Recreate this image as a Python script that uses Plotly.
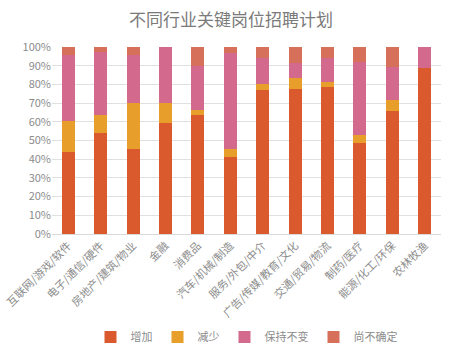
import plotly.graph_objects as go

categories = ["互联网/游戏/软件", "电子/通信/硬件", "房地产/建筑/物业", "金融", "消费品",
              "汽车/机械/制造", "服务/外包/中介", "广告/传媒/教育/文化", "交通/贸易/物流",
              "制药/医疗", "能源/化工/环保", "农林牧渔"]
increase = [43.6, 53.8, 45.7, 59.5, 63.8, 41.4, 77.0, 77.5, 78.6, 48.4, 65.6, 88.7]
decrease = [16.7, 9.7, 24.3, 10.5, 2.7, 4.3, 3.0, 5.8, 2.5, 4.7, 6.3, 0.0]
unchanged = [35.6, 33.8, 25.9, 30.0, 23.4, 51.2, 14.2, 8.2, 13.1, 39.0, 17.5, 11.3]
uncertain = [4.1, 2.7, 4.1, 0.0, 10.1, 3.1, 5.8, 8.5, 5.8, 7.9, 10.6, 0.0]

series = [("增加", increase, "#DA5A2E"), ("减少", decrease, "#E89E2A"),
          ("保持不变", unchanged, "#D3698D"), ("尚不确定", uncertain, "#D7705A")]

font = "Noto Sans CJK SC"
fig = go.Figure()
for name, vals, color in series:
    fig.add_trace(go.Bar(x=categories, y=vals, name=name, marker_color=color,
                         marker_line_width=0))

fig.update_layout(
    barmode="stack", barnorm="percent", bargap=0.6,
    width=462, height=351,
    margin=dict(l=52, r=21, t=47, b=117, autoexpand=False),
    paper_bgcolor="white", plot_bgcolor="white",
    font=dict(family=font, color="#8C8C8C", size=11),
    title=dict(text="不同行业关键岗位招聘计划", x=0.5, xanchor="center",
               y=1 - 20 / 351, yanchor="middle",
               font=dict(family=font, size=17, color="#7A7A7A")),
    yaxis=dict(range=[0, 100], dtick=10, ticksuffix="%", showgrid=True,
               gridcolor="#E0E0E0", gridwidth=1, zeroline=False, showline=False,
               tickfont=dict(size=11, color="#8C8C8C"), ticks="", automargin=False),
    xaxis=dict(tickangle=-45, showline=True, linecolor="#D9D9D9", automargin=False,
               tickfont=dict(size=11, color="#8C8C8C"), ticks=""),
    legend=dict(orientation="h", x=0.5, xanchor="center", yref="container",
                y=14 / 351, yanchor="middle", font=dict(size=11, color="#8C8C8C"),
                itemwidth=30, traceorder="normal"),
)

fig.write_html("out.html")
